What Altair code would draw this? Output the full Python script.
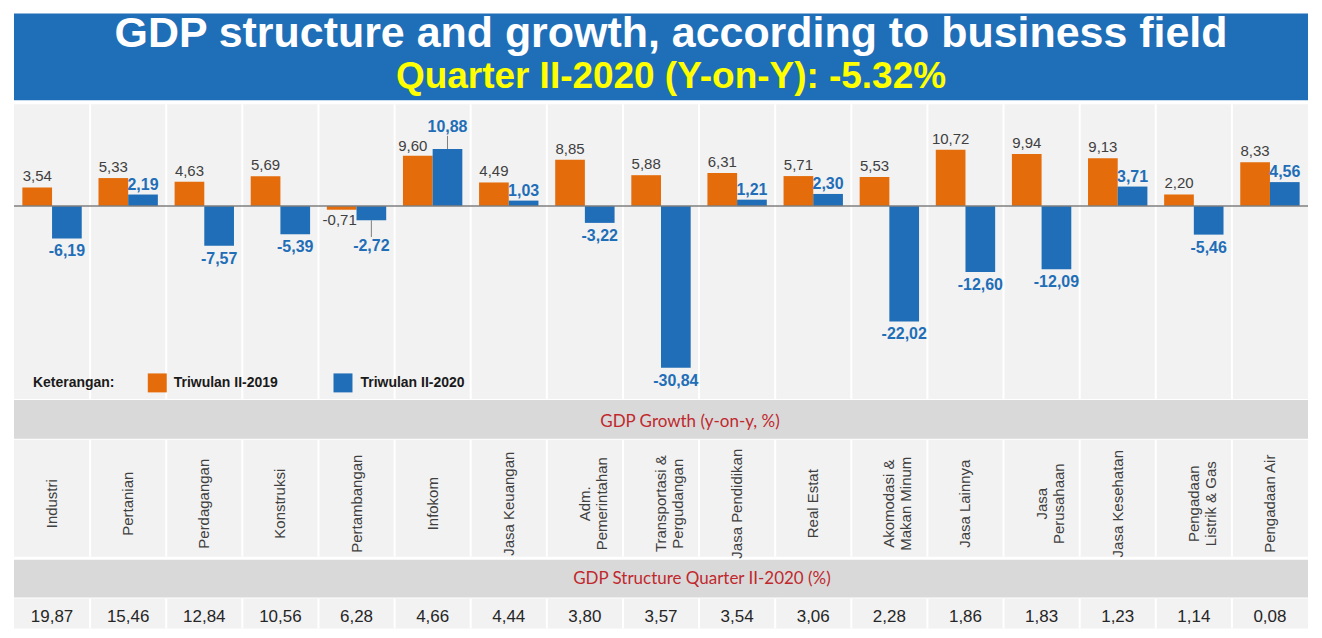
import altair as alt
import pandas as pd

# ---------------- data ----------------
categories = ["Industri", "Pertanian", "Perdagangan", "Konstruksi", "Pertambangan",
              "Infokom", "Jasa Keuangan", "Adm. Pemerintahan", "Transportasi & Pergudangan",
              "Jasa Pendidikan", "Real Estat", "Akomodasi & Makan Minum", "Jasa Lainnya",
              "Jasa Perusahaan", "Jasa Kesehatan", "Pengadaan Listrik & Gas", "Pengadaan Air"]
axis_labels = ["Industri", "Pertanian", "Perdagangan", "Konstruksi", "Pertambangan",
               "Infokom", "Jasa Keuangan", "Adm.|Pemerintahan", "Transportasi &|Pergudangan",
               "Jasa Pendidikan", "Real Estat", "Akomodasi &|Makan Minum", "Jasa Lainnya",
               "Jasa|Perusahaan", "Jasa Kesehatan", "Pengadaan|Listrik & Gas", "Pengadaan Air"]
series = ["Triwulan II-2019", "Triwulan II-2020"]
growth_2019 = [3.54, 5.33, 4.63, 5.69, -0.71, 9.60, 4.49, 8.85, 5.88, 6.31, 5.71, 5.53, 10.72, 9.94, 9.13, 2.20, 8.33]
growth_2020 = [-6.19, 2.19, -7.57, -5.39, -2.72, 10.88, 1.03, -3.22, -30.84, 1.21, 2.30, -22.02, -12.60, -12.09, 3.71, -5.46, 4.56]
structure_2020 = [19.87, 15.46, 12.84, 10.56, 6.28, 4.66, 4.44, 3.80, 3.57, 3.54, 3.06, 2.28, 1.86, 1.83, 1.23, 1.14, 0.08]

title_text = "GDP structure and growth, according to business field"
subtitle_text = "Quarter II-2020 (Y-on-Y): -5.32%"
band1_text = "GDP Growth (y-on-y, %)"
band2_text = "GDP Structure Quarter II-2020 (%)"
legend_title = "Keterangan:"


def fmt(v):
    return f"{v:.2f}".replace(".", ",")


rows = []
for i, (c, a, b) in enumerate(zip(categories, growth_2019, growth_2020)):
    rows.append({"idx": i, "category": c, "series": series[0], "value": a, "label": fmt(a)})
    rows.append({"idx": i, "category": c, "series": series[1], "value": b, "label": fmt(b)})
bars_df = pd.DataFrame(rows)
cat_df = pd.DataFrame({"idx": list(range(len(categories))), "category": categories,
                       "lines": axis_labels, "structure": [fmt(v) for v in structure_2020]})
sep_df = pd.DataFrame({"idx": list(range(1, len(categories)))})
zero_df = pd.DataFrame({"zero": [0.0]})

# ---------------- layout ----------------
W = 1296
H_HEAD, H_BARS, H_BAND1, H_LAB, H_BAND2, H_VAL = 90, 295, 39, 117, 38, 30
ORANGE, BLUE = "#E46C0A", "#1F6EB7"
PANEL_BG, BAND_BG = "#F2F2F2", "#D9D9D9"
FONT = "Liberation Sans"
BAR_W = 0.39
PAIR_START = 0.11

xscale = alt.Scale(domain=[0, len(categories)], nice=False, zero=False)
cscale = alt.Scale(domain=series, range=[ORANGE, BLUE])


def xq(field):
    return alt.X(f"{field}:Q", scale=xscale, axis=None)


def bg(color, h, y0=0):
    return alt.Chart(pd.DataFrame({"k": [0]})).mark_rect(color=color).encode(
        x=alt.value(0), x2=alt.value(W), y=alt.value(y0), y2=alt.value(h))


def separators():
    return alt.Chart(sep_df).mark_rule(color="#FFFFFF", strokeWidth=2).encode(x=xq("idx"))


def one_text(txt, x, y, **kw):
    return alt.Chart(pd.DataFrame({"t": [txt]})).mark_text(**kw).encode(
        x=alt.value(x), y=alt.value(y), text="t:N")


# header
header = alt.layer(
    bg("#1F6FB8", 87),
    one_text(title_text, W / 2 + 10, 34, fontSize=43, fontWeight="bold", color="#FFFFFF", font=FONT,
             baseline="alphabetic"),
    one_text(subtitle_text, W / 2 + 10, 75, fontSize=37, fontWeight="bold", color="#FFFF00", font=FONT,
             baseline="alphabetic"),
).properties(width=W, height=H_HEAD)

# bars
yscale = alt.Scale(domain=[-36.8, 19.4], nice=False, zero=False)
yenc = alt.Y("value:Q", scale=yscale, axis=None)

bar_base = alt.Chart(bars_df).transform_calculate(
    x0=f"datum.idx + {PAIR_START} + (datum.series == '{series[0]}' ? 0 : {BAR_W})"
).transform_calculate(
    x1=f"datum.x0 + {BAR_W}", xc=f"datum.x0 + {BAR_W / 2}"
)

bars = bar_base.mark_rect().encode(
    x=xq("x0"), x2="x1", y=yenc, y2=alt.datum(0),
    color=alt.Color("series:N", scale=cscale, legend=None),
)

zero = alt.Chart(zero_df).mark_rule(color="#7F7F7F", strokeWidth=1.5).encode(
    x=alt.value(0), x2=alt.value(W), y=alt.Y("zero:Q", scale=yscale, axis=None))

tb = bar_base.encode(x=xq("xc"), y=yenc, text="label:N")
o = f"datum.series == '{series[0]}'"
b = f"datum.series == '{series[1]}'"
notlead = "datum.category != 'Infokom' && datum.category != 'Pertambangan'"
islead = "(datum.category == 'Infokom' || datum.category == 'Pertambangan')"

o_style = dict(fontSize=15, color="#404040", font=FONT)
b_style = dict(fontSize=16, fontWeight="bold", color=BLUE, font=FONT)

o_pos = tb.transform_filter(f"{o} && datum.value >= 0 && datum.category != 'Infokom'").mark_text(
    baseline="bottom", dy=-3, **o_style)
o_pos_shift = tb.transform_filter(f"{o} && datum.category == 'Infokom'").mark_text(
    baseline="bottom", dy=-2, dx=-5, **o_style)
o_neg = tb.transform_filter(f"{o} && datum.value < 0").mark_text(
    baseline="top", dy=3, dx=-2, **o_style)
b_pos = tb.transform_filter(f"{b} && datum.value >= 0 && {notlead}").mark_text(
    baseline="bottom", dy=-2, **b_style)
b_neg = tb.transform_filter(f"{b} && datum.value < 0 && {notlead}").mark_text(
    baseline="top", dy=5, **b_style)

lead_base = bar_base.transform_filter(f"{b} && {islead}").transform_calculate(
    lead_end="datum.value + (datum.value > 0 ? 2.5 : -3.2)")
leaders = lead_base.mark_rule(color="#808080", strokeWidth=1).encode(
    x=xq("xc"), y=yenc, y2="lead_end")
lead_pos = lead_base.transform_filter("datum.value > 0").mark_text(
    baseline="bottom", dy=-1, **b_style).encode(
    x=xq("xc"), y=alt.Y("lead_end:Q", scale=yscale, axis=None), text="label:N")
lead_neg = lead_base.transform_filter("datum.value < 0").mark_text(
    baseline="top", dy=1, **b_style).encode(
    x=xq("xc"), y=alt.Y("lead_end:Q", scale=yscale, axis=None), text="label:N")

# legend (drawn as marks)
LEG_Y = 279
leg_style = dict(fontSize=14, fontWeight="bold", color="#1A1A1A", font=FONT, align="left",
                 baseline="middle")
legend_layers = [
    one_text(legend_title, 19, LEG_Y, **leg_style),
    alt.Chart(pd.DataFrame({"series": [series[0]]})).mark_square(size=361, opacity=1).encode(
        x=alt.value(143.5), y=alt.value(LEG_Y), color=alt.Color("series:N", scale=cscale, legend=None)),
    one_text(series[0], 160, LEG_Y, **leg_style),
    alt.Chart(pd.DataFrame({"series": [series[1]]})).mark_square(size=361, opacity=1).encode(
        x=alt.value(329.5), y=alt.value(LEG_Y), color=alt.Color("series:N", scale=cscale, legend=None)),
    one_text(series[1], 347, LEG_Y, **leg_style),
]

bar_panel = alt.layer(
    bg(PANEL_BG, H_BARS), separators(), bars, zero,
    o_pos, o_pos_shift, o_neg, b_pos, b_neg, leaders, lead_pos, lead_neg, *legend_layers
).properties(width=W, height=H_BARS)

# band 1
band_style = dict(fontSize=17, color="#C0282D", font="Lato", baseline="middle")
band1 = alt.layer(bg(BAND_BG, H_BAND1), one_text(band1_text, W / 2 + 29, 22, **band_style)
                  ).properties(width=W, height=H_BAND1)

# category labels
cat_mid = alt.Chart(cat_df).transform_calculate(xm="datum.idx + 0.5")
labels = alt.layer(
    bg(PANEL_BG, H_LAB), separators(),
    cat_mid.mark_text(angle=270, align="center", baseline="middle", fontSize=15,
                      color="#404040", font=FONT, lineHeight=17, lineBreak="|").encode(
        x=xq("xm"), y=alt.value(64), text="lines:N"),
).properties(width=W, height=H_LAB)

# band 2
band2 = alt.layer(bg(BAND_BG, H_BAND2), one_text(band2_text, W / 2 + 41, 19, **band_style)
                  ).properties(width=W, height=H_BAND2)

# structure values
values = alt.layer(
    bg(PANEL_BG, H_VAL), separators(),
    cat_mid.mark_text(fontSize=17, color="#262626", font=FONT, baseline="middle").encode(
        x=xq("xm"), y=alt.value(18), text="structure:N"),
).properties(width=W, height=H_VAL)

chart = alt.vconcat(header, bar_panel, band1, labels, band2, values, spacing=0
                    ).configure_view(strokeWidth=0)

chart.save("out.html", embed_options={"renderer": "svg", "actions": False})
